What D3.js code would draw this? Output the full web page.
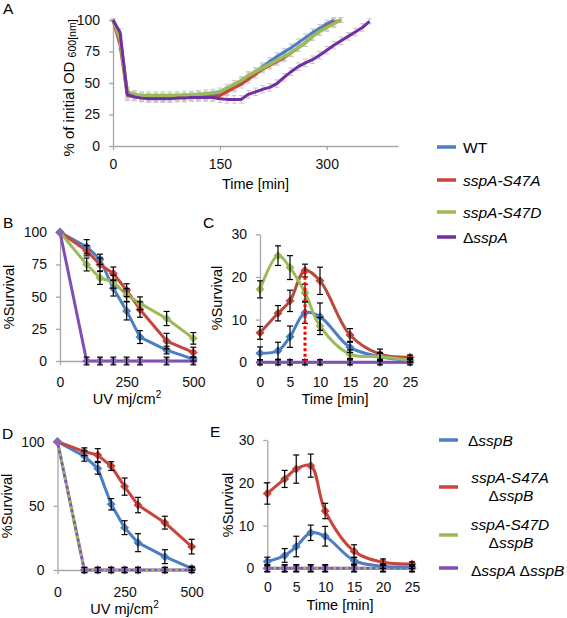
<!DOCTYPE html>
<html><head><meta charset="utf-8">
<script src="https://cdn.jsdelivr.net/npm/d3@7"></script>
<style>body{margin:0;background:#fff}</style>
</head><body><svg id="c" width="567" height="618"></svg>
<script>
// ---------- DATA ----------
// Panel A: % of initial OD600 vs time (min)
const aTime = [0,10,20,30,40,50,60,70,80,90,100,110,120,130,140,150,160,170,180,190,200,210,220,230,240,250,260,270,280,290,300,310,320,330,340,350,360];
const aWT    = [100,85,42,40,39,38.5,38.5,38.5,38.5,39,39,39.5,40,40,40.5,41,44,47,51,55,59,63,67,71,74.5,78,82,86,90,93.5,97,100];
const aS47A  = [100,80,40,39,38.5,38.5,38,38,38,38.5,38.5,39,39,39,39,40,43,46,49,53,57,61,64,67,70,74,78,82,87,91,95,98,100];
const aS47D  = [100,85,43,41,40,40,40,40,40,40,40.5,40.5,41,41.5,42,43,46,49,52,56,59,62,65,68,71,74,78,82,87,91,94,97,100];
const aDsspA = [100,90,41,39,38,37.5,37.5,37.5,37.5,38,38,38.5,38.5,38.5,38.5,37.5,37,37,37,41,43,45,46.5,49.5,54.5,59,63,66,68.5,72,76,80,83.5,87,90.5,94,99];
const aErrWT    = [1,3,4,3,3,3,3,3,3,3,3,3,3,3,3,3,3,3,3,3,3,3,3,3,3,3,3,3,3,3,3,2];
const aErrS47A  = [1,3,4,3,3,3,3,3,3,3,3,3,3,3,3,3,3,3,3,3,3,3,3,3,3,3,3,3,3,3,3,3,2];
const aErrS47D  = [1,3,4,3,3,3,3,3,3,3,3,3,3,3,3,3,3,3,3,3,3,3,3,3,3,3,3,3,3,3,3,3,2];
const aErrDsspA = [1,3,4,3,3,3,3,3,3,3,3,3,3,3,3,3,3,3,3,3,3,3,3,3,3,3,3,3,3,3,3,3,3,3,3,3,2];
const aXTicks = [0,150,300];
const aYTicks = [0,25,50,75,100];

// Panel B: %Survival vs UV dose
const bDose = [0,100,150,200,250,300,400,500];
const bWT    = [100,88.8,79,56.5,38.9,18.6,8.5,1.5];
const bS47A  = [100,85.7,75,68,55,40,15.5,6.7];
const bS47D  = [100,75,64.5,61.6,51.3,44.8,33,17.6];
const bDsspA = [100,0,0,0,0,0,0,0];
const bErrWT    = [0,5.5,4,6,7,5,3,1.5];
const bErrS47A  = [0,4,5,5,5,6,6,4];
const bErrS47D  = [0,5,5,5,5,5,5.5,4.5];
const bErrDsspA = [0,3,3,3,3,3,3,3];
const doseTicks = [0,250,500];
const bYTicks = [0,25,50,75,100];

// Panel C: %Survival vs time
const cTime = [0,3,5,7.5,10,15,20,25];
const cWT    = [2.1,2.7,6,11.6,10.7,3.5,1.3,0.5];
const cS47A  = [6.9,11.5,14.4,21.5,19.1,6.4,1.9,1.2];
const cS47D  = [17.1,25,22.2,16.3,8.5,1.9,1.3,0.5];
const cDsspA = [0,0,0,0,0,0,0,0];
const cErrWT    = [1.5,2,2.5,2.5,3.2,1.2,1,0.5];
const cErrS47A  = [1.5,1.8,2.5,1.5,3.2,1.5,1.2,0.5];
const cErrS47D  = [2,2.3,2.8,2,2,1,0.8,0.5];
const cErrDsspA = [0.6,0.6,0.6,0.6,0.6,0.6,0.6,0.6];
const cMarkTime = 7.5, cMarkValue = 22;
const timeTicks = [0,5,10,15,20,25];
const survTicks30 = [0,10,20,30];

// Panel D: %Survival vs UV dose (sspB background)
const dDose = [0,100,150,200,250,300,400,500];
const dB      = [100,88.8,79.2,51.2,33,21.3,10.4,1.3];
const dS47A   = [100,92.2,89.6,81,65,50.6,36.9,18.2];
const dS47D   = [100,0,0,0,0,0,0,0];
const dDsspA  = [100,0,0,0,0,0,0,0];
const dErrB     = [0,4,4.5,4.4,5.4,7,5.4,1.5];
const dErrS47A  = [0,3,5,3.4,6.7,6,5,5.7];
const dErrS47D  = [0,2,2,2,2,2,2,2];
const dErrDsspA = [0,2,2,2,2,2,2,2];
const dYTicks = [0,50,100];

// Panel E: %Survival vs time (sspB background)
const eTime = [0,3,5,7.5,10,15,20,25];
const eB     = [1.6,3,5.1,8.3,7.5,1.8,0.5,0.3];
const eS47A  = [17.5,20.9,23.2,24,13.4,4,1.4,1];
const eS47D  = [0,0,0,0,0,0,0,0];
const eDsspA = [0,0,0,0,0,0,0,0];
const eErrB     = [1,1.6,2.4,1.8,2.3,0.8,0.5,0.3];
const eErrS47A  = [2.5,2,3.3,2.7,1.8,1.5,0.8,0.5];
const eErrS47D  = [0.8,0.8,0.8,0.8,0.8,0.8,0.8,0.8];
const eErrDsspA = [0.8,0.8,0.8,0.8,0.8,0.8,0.8,0.8];

// ---------- STYLE ----------
const FONT = '"Liberation Sans", Arial, Helvetica, sans-serif';
const BLUE = "#4A7FC4", RED = "#C8453E", GREEN = "#9BBB59", PURPLE = "#7F4FB5", PURPLE_A = "#7030A0";
const svg = d3.select("#c");

function makePanel(cfg){
  const x = d3.scaleLinear().domain(cfg.xDomain).range(cfg.xRange);
  const y = d3.scaleLinear().domain(cfg.yDomain).range(cfg.yRange);
  const g = svg.append("g");
  const ax = g.append("g").attr("transform",`translate(0,${cfg.yRange[0]})`)
    .call(d3.axisBottom(x).tickValues(cfg.xTicks).tickSize(4).tickSizeOuter(0).tickPadding(cfg.xPad));
  const ay = g.append("g").attr("transform",`translate(${cfg.xRange[0]},0)`)
    .call(d3.axisLeft(y).tickValues(cfg.yTicks).tickSize(4).tickSizeOuter(0).tickPadding(9));
  [ax,ay].forEach(a=>{
    a.selectAll("path,line").attr("stroke","#a6a6a6").attr("stroke-width",1.3);
    a.selectAll("text").attr("font-size",14).attr("font-family",FONT).attr("fill","#111");
  });
  return {g,x,y};
}

function drawLine(p, xs, ys, opt){
  const data = ys.map((v,i)=>[xs[i],v]);
  const line = d3.line().x(d=>p.x(d[0])).y(d=>p.y(d[1])).curve(opt.curve||d3.curveLinear);
  p.g.append("path").attr("d",line(data)).attr("fill","none")
    .attr("stroke",opt.color).attr("stroke-width",opt.width||3)
    .attr("stroke-dasharray",opt.dash||null).attr("stroke-linejoin","round");
}
function drawErr(p, xs, ys, es, opt){
  const col = opt.color||"#000", cap = opt.cap||3;
  ys.forEach((v,i)=>{
    const e = es[i]; if(!e) return;
    const cx = p.x(xs[i]), y1 = p.y(v-e), y2 = p.y(v+e);
    p.g.append("line").attr("x1",cx).attr("x2",cx).attr("y1",y1).attr("y2",y2).attr("stroke",col).attr("stroke-width",opt.sw||1.2);
    [y1,y2].forEach(yy=>p.g.append("line").attr("x1",cx-cap).attr("x2",cx+cap).attr("y1",yy).attr("y2",yy).attr("stroke",col).attr("stroke-width",opt.sw||1.2));
  });
}
const diamond = d3.symbol(d3.symbolSquare, 40)();
function drawMarkers(p, xs, ys, color){
  ys.forEach((v,i)=>{
    p.g.append("path").attr("d",diamond)
      .attr("transform",`translate(${p.x(xs[i])},${p.y(v)}) rotate(45)`).attr("fill",color);
  });
}
function txt(x,y,s,opt={}){
  const t = svg.append("text").attr("x",x).attr("y",y).attr("font-family",FONT)
    .attr("font-size",opt.size||14).attr("fill","#000").attr("text-anchor",opt.anchor||"start");
  if(opt.rotate) t.attr("transform",`rotate(-90,${x},${y})`);
  t.text(s);
  return t;
}
function ylab(x,y,s){ return txt(x,y,s,{anchor:"middle",rotate:true,size:14.5}); }

// ---------- PANEL A ----------
const pA = makePanel({xDomain:[0,400],xRange:[113,398],yDomain:[0,100],yRange:[146,20],xTicks:aXTicks,yTicks:aYTicks,xPad:9});
[[aWT,aErrWT],[aS47A,aErrS47A],[aS47D,aErrS47D],[aDsspA,aErrDsspA]].forEach(([v,e])=>
  drawErr(pA, aTime, v, e, {color:"#c8c8c8", cap:2.5, sw:1}));
drawLine(pA, aTime, aWT, {color:BLUE, width:3});
drawLine(pA, aTime, aS47A, {color:RED, width:3});
drawLine(pA, aTime, aS47D, {color:GREEN, width:3.5});
drawLine(pA, aTime, aDsspA, {color:PURPLE_A, width:3});
{
  const t = svg.append("text").attr("transform","translate(74,88) rotate(-90)")
    .attr("text-anchor","middle").attr("font-family",FONT).attr("font-size",15);
  t.append("tspan").text("% of initial OD ");
  t.append("tspan").attr("font-size",10.5).attr("dy",2).text("600[nm]");
}
txt(255.5,189,"Time [min]",{anchor:"middle",size:14.5});
txt(3,14,"A",{size:15.5});

// ---------- PANEL B ----------
const pB = makePanel({xDomain:[0,500],xRange:[60,193.3],yDomain:[0,100],yRange:[361,232.3],xTicks:doseTicks,yTicks:bYTicks,xPad:12});
drawLine(pB,bDose,bWT,{color:BLUE});
drawLine(pB,bDose,bS47A,{color:RED});
drawLine(pB,bDose,bS47D,{color:GREEN});
drawLine(pB,bDose,bDsspA,{color:PURPLE});
drawMarkers(pB,bDose,bWT,BLUE); drawMarkers(pB,bDose,bS47A,RED);
drawMarkers(pB,bDose,bS47D,GREEN); drawMarkers(pB,bDose,bDsspA,"#8a64b8");
[[bWT,bErrWT],[bS47A,bErrS47A],[bS47D,bErrS47D],[bDsspA,bErrDsspA]].forEach(([v,e])=>drawErr(pB,bDose,v,e,{}));
ylab(14,297,"%Survival");
{
  const t = txt(127,404,"UV mj/cm",{anchor:"middle",size:14.5});
  t.append("tspan").attr("font-size",10).attr("dy",-6).text("2");
}
txt(3,228,"B",{size:15.5});

// ---------- PANEL C ----------
const pC = makePanel({xDomain:[0,25],xRange:[260,410],yDomain:[0,30],yRange:[362.3,234.3],xTicks:timeTicks,yTicks:survTicks30,xPad:11});
const smooth = d3.curveCatmullRom.alpha(0.5);
drawLine(pC,cTime,cDsspA,{color:PURPLE,curve:smooth});
drawLine(pC,cTime,cWT,{color:BLUE,curve:smooth});
drawLine(pC,cTime,cS47A,{color:"#B84A3E",curve:smooth});
drawLine(pC,cTime,cS47D,{color:GREEN,curve:smooth});
drawMarkers(pC,cTime,cWT,BLUE); drawMarkers(pC,cTime,cS47A,"#B84A3E");
drawMarkers(pC,cTime,cS47D,GREEN); drawMarkers(pC,cTime,cDsspA,"#7a5aa8");
[[cWT,cErrWT],[cS47A,cErrS47A],[cS47D,cErrS47D],[cDsspA,cErrDsspA]].forEach(([v,e])=>drawErr(pC,cTime,v,e,{}));
pC.g.append("line").attr("x1",pC.x(cMarkTime)).attr("x2",pC.x(cMarkTime))
  .attr("y1",pC.y(0)).attr("y2",pC.y(cMarkValue)).attr("stroke","#ff0000")
  .attr("stroke-width",3).attr("stroke-dasharray","3,2.5");
ylab(222,298,"%Survival");
txt(335,404,"Time [min]",{anchor:"middle",size:14.5});
txt(203,228,"C",{size:15.5});

// ---------- PANEL D ----------
const pD = makePanel({xDomain:[0,500],xRange:[57.5,191.7],yDomain:[0,100],yRange:[570,441.7],xTicks:doseTicks,yTicks:dYTicks,xPad:13});
drawLine(pD,dDose,dDsspA,{color:PURPLE});
drawLine(pD,dDose,dS47D,{color:GREEN,dash:"3,3"});
drawLine(pD,dDose,dB,{color:BLUE});
drawLine(pD,dDose,dS47A,{color:RED});
drawMarkers(pD,dDose,dB,BLUE); drawMarkers(pD,dDose,dS47A,RED);
drawMarkers(pD,dDose,dS47D,GREEN); drawMarkers(pD,dDose,dDsspA,"#8a64b8");
[[dB,dErrB],[dS47A,dErrS47A],[dS47D,dErrS47D],[dDsspA,dErrDsspA]].forEach(([v,e])=>drawErr(pD,dDose,v,e,{}));
ylab(12,506,"%Survival");
{
  const t = txt(124.5,614,"UV mj/cm",{anchor:"middle",size:14.5});
  t.append("tspan").attr("font-size",10).attr("dy",-6).text("2");
}
txt(2,439,"D",{size:15.5});

// ---------- PANEL E ----------
const pE = makePanel({xDomain:[0,25],xRange:[267.3,412],yDomain:[0,30],yRange:[568.3,440],xTicks:timeTicks,yTicks:survTicks30,xPad:10});
drawLine(pE,eTime,eDsspA,{color:PURPLE,curve:smooth});
drawLine(pE,eTime,eS47D,{color:GREEN,curve:smooth,dash:"3,3"});
drawLine(pE,eTime,eB,{color:BLUE,curve:smooth});
drawLine(pE,eTime,eS47A,{color:RED,curve:smooth});
drawMarkers(pE,eTime,eB,BLUE); drawMarkers(pE,eTime,eS47A,RED);
drawMarkers(pE,eTime,eS47D,GREEN); drawMarkers(pE,eTime,eDsspA,"#8a64b8");
[[eB,eErrB],[eS47A,eErrS47A],[eS47D,eErrS47D],[eDsspA,eErrDsspA]].forEach(([v,e])=>drawErr(pE,eTime,v,e,{}));
ylab(233,505,"%Survival");
txt(340,610,"Time [min]",{anchor:"middle",size:14.5});
txt(210,437,"E",{size:15.5});

// ---------- LEGENDS ----------
function swatch(x1,x2,y,color,dash){
  svg.append("line").attr("x1",x1).attr("x2",x2).attr("y1",y).attr("y2",y).attr("stroke",color)
    .attr("stroke-width",3.5).attr("stroke-dasharray",dash||null);
}
function legText(x,y,parts,anchor){
  const t = svg.append("text").attr("x",x).attr("y",y).attr("font-family",FONT).attr("font-size",15.5)
    .attr("text-anchor",anchor||"start").attr("fill","#000");
  parts.forEach(([s,it])=>t.append("tspan").attr("font-style",it?"italic":"normal").text(s));
}
const topLegend = [
  {color:BLUE, y:147, parts:[["WT",false]]},
  {color:RED, y:180, parts:[["sspA-S47A",true]]},
  {color:GREEN, y:212, parts:[["sspA-S47D",true]]},
  {color:PURPLE_A, y:237, parts:[["Δ",false],["sspA",true]]}
];
topLegend.forEach(d=>{ swatch(437,456,d.y,d.color); legText(463,d.y+5.5,d.parts); });

swatch(439,458,440,BLUE); legText(468,445.5,[["Δ",false],["sspB",true]]);
swatch(439,458,487,RED); legText(510,482.5,[["sspA-S47A",true]],"middle"); legText(511,501,[["Δ",false],["sspB",true]],"middle");
swatch(439,458,535,GREEN); legText(510,529.5,[["sspA-S47D",true]],"middle"); legText(511,548,[["Δ",false],["sspB",true]],"middle");
swatch(439,458,568,PURPLE); legText(471,575.5,[["Δ",false],["sspA ",true],["Δ",false],["sspB",true]]);
</script></body></html>
